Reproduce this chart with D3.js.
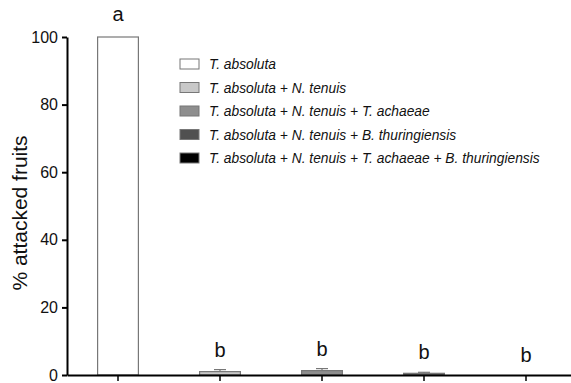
<!DOCTYPE html>
<html>
<head>
<style>
  body { margin: 0; background: #fff; }
  text { font-family: "Liberation Sans", Arial, sans-serif; fill: #111; }
</style>
</head>
<body>
<script src="https://cdn.jsdelivr.net/npm/d3@7"></script>
<script>

var groups = ["T. absoluta",
              "T. absoluta + N. tenuis",
              "T. absoluta + N. tenuis + T. achaeae",
              "T. absoluta + N. tenuis + B. thuringiensis",
              "T. absoluta + N. tenuis + T. achaeae + B. thuringiensis"];
var values = [100, 1.0, 1.3, 0.5, 0];
var errors = [0, 0.6, 0.6, 0.3, 0];
var letters = ["a", "b", "b", "b", "b"];
var fills = ["#ffffff", "#c8c8c8", "#8e8e8e", "#505050", "#000000"];
var yTicks = [0, 20, 40, 60, 80, 100];

var W = 571, H = 383;
var m = {t: 37, r: -6, b: 8, l: 67};
var w = W - m.l - m.r;
var h = H - m.t - m.b;

var svg = d3.select("body").append("svg")
    .attr("width", W).attr("height", H);
var g = svg.append("g").attr("transform", "translate(" + m.l + "," + m.t + ")");

var x = d3.scaleBand().domain(d3.range(groups.length)).range([0, w]).paddingInner(0.6).paddingOuter(0.3);
var y = d3.scaleLinear().domain([0, 100]).range([h, 0]);

// bars
g.selectAll("rect.bar").data(values).enter().append("rect")
    .attr("class", "bar")
    .attr("x", function(d, i) { return x(i); })
    .attr("y", function(d) { return y(d); })
    .attr("width", x.bandwidth())
    .attr("height", function(d) { return h - y(d); })
    .attr("fill", function(d, i) { return fills[i]; })
    .attr("stroke", "#777")
    .attr("stroke-width", 1.2);

// error bars (upper only)
values.forEach(function(v, i) {
  if (errors[i] <= 0) return;
  var cx = x(i) + x.bandwidth() / 2;
  g.append("line").attr("x1", cx).attr("x2", cx)
      .attr("y1", y(v)).attr("y2", y(v + errors[i]))
      .attr("stroke", "#777").attr("stroke-width", 1.2);
  g.append("line").attr("x1", cx - 6).attr("x2", cx + 6)
      .attr("y1", y(v + errors[i])).attr("y2", y(v + errors[i]))
      .attr("stroke", "#777").attr("stroke-width", 1.2);
});

// letters
g.selectAll("text.letter").data(letters).enter().append("text")
    .attr("class", "letter")
    .attr("x", function(d, i) { return x(i) + x.bandwidth() / 2; })
    .attr("y", function(d, i) { return i == 0 ? y(values[i]) - 16 : y(values[i] + errors[i]) - 13; })
    .attr("text-anchor", "middle")
    .style("font-size", "20px")
    .text(function(d) { return d; });

// y axis
var yAxis = g.append("g")
    .call(d3.axisLeft(y).tickValues(yTicks).tickSize(5).tickSizeOuter(0));
yAxis.select(".domain").attr("stroke", "#000").attr("stroke-width", 2);
yAxis.selectAll(".tick line").attr("stroke", "#000").attr("stroke-width", 2);
yAxis.selectAll(".tick text").style("font-size", "16px").attr("x", -9)
    .style("font-family", "'Liberation Sans', Arial, sans-serif").attr("fill", "#111");

// x axis
var xAxis = g.append("g").attr("transform", "translate(0," + h + ")")
    .call(d3.axisBottom(x).tickSize(6).tickSizeOuter(0).tickFormat(""));
xAxis.select(".domain").attr("stroke", "#000").attr("stroke-width", 2);
xAxis.selectAll(".tick line").attr("stroke", "#000").attr("stroke-width", 1.5);

// y label
svg.append("text")
    .attr("transform", "translate(27," + 213 + ") rotate(-90)")
    .attr("text-anchor", "middle")
    .style("font-size", "21px")
    .text("% attacked fruits");

// legend
var leg = svg.append("g").attr("transform", "translate(180,59)");
var row = leg.selectAll("g").data(groups).enter().append("g")
    .attr("transform", function(d, i) { return "translate(0," + (i * 23.5) + ")"; });
row.append("rect")
    .attr("width", 19).attr("height", 10)
    .attr("fill", function(d, i) { return fills[i]; })
    .attr("stroke", "#777").attr("stroke-width", 1);
row.append("text")
    .attr("x", 29).attr("y", 10)
    .style("font-size", "13.8px").style("font-style", "italic")
    .text(function(d) { return d; });

</script>
</body>
</html>
